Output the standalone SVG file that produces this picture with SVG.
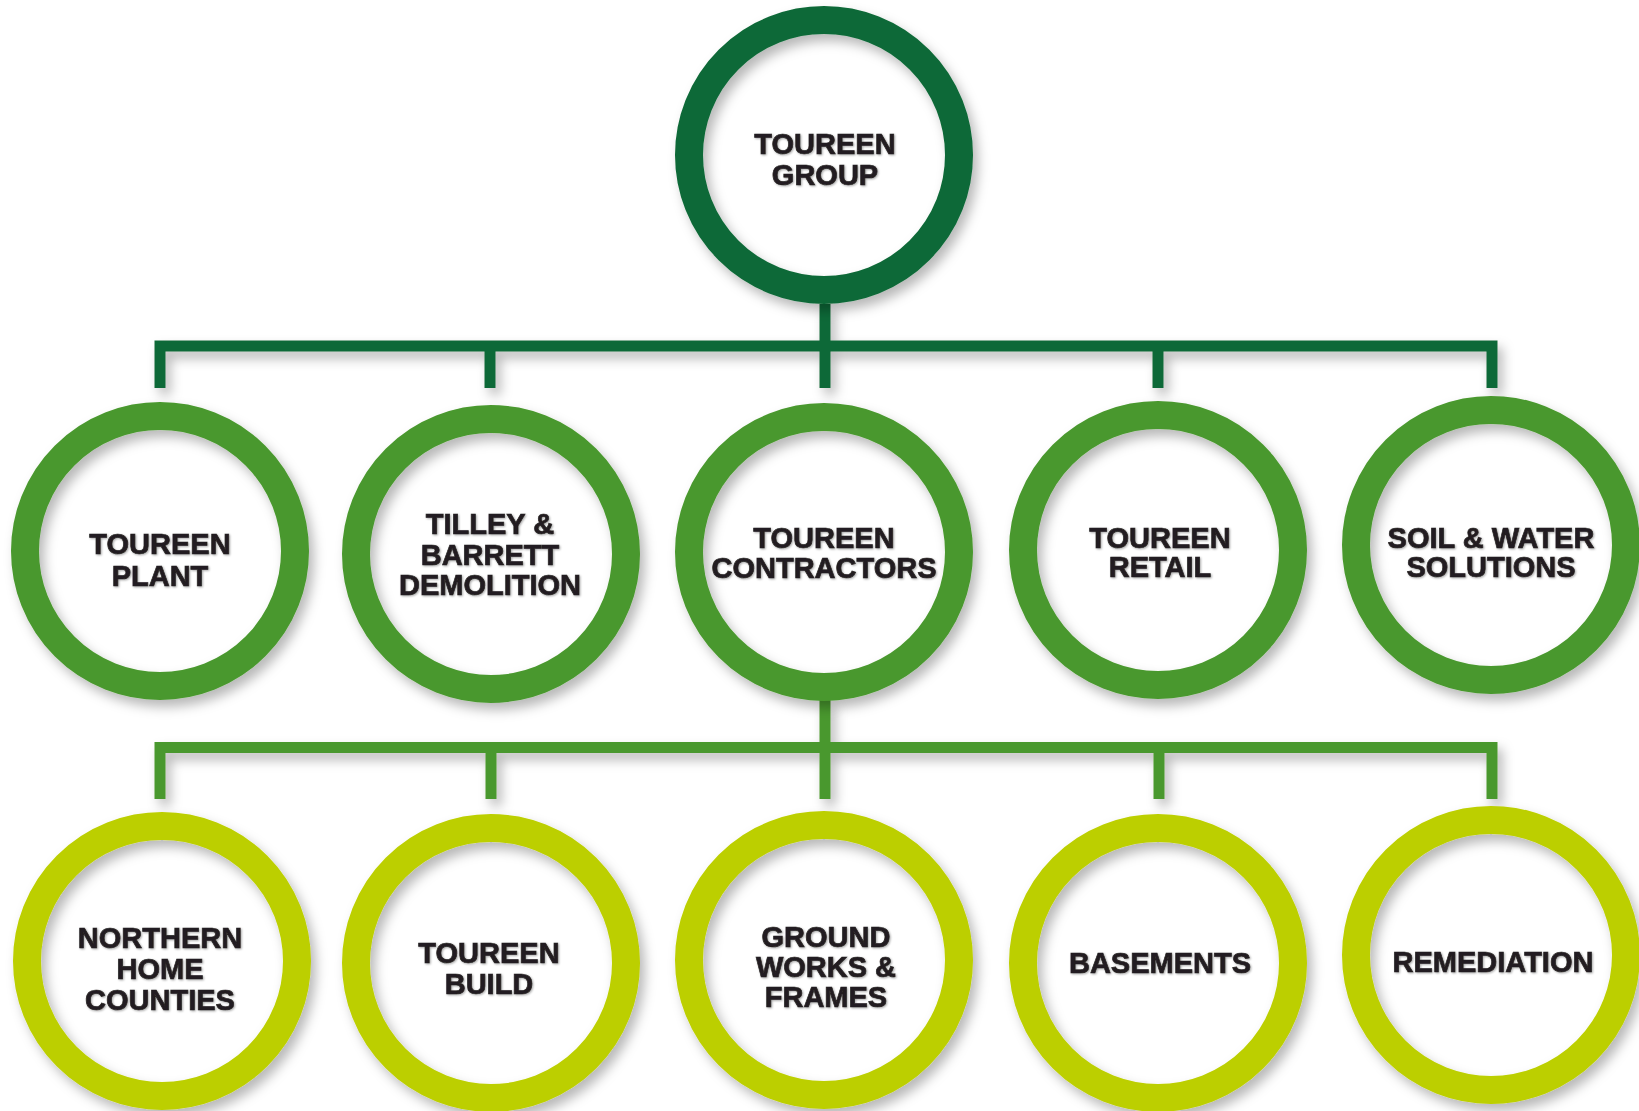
<svg xmlns="http://www.w3.org/2000/svg" width="1639" height="1111" viewBox="0 0 1639 1111">
<defs>
<filter id="sh" x="-20%" y="-20%" width="140%" height="140%">
<feDropShadow dx="5" dy="7" stdDeviation="6" flood-color="#000" flood-opacity="0.28"/>
</filter>
<filter id="tsh" x="-10%" y="-20%" width="120%" height="140%">
<feDropShadow dx="1" dy="1" stdDeviation="0.8" flood-color="#000" flood-opacity="0.35"/>
</filter>
</defs>
<style>
.ring{fill:none;stroke-width:28}
.l1{stroke:#0f6937}
.l2{stroke:#4a982e}
.l3{stroke:#bccf00}
.conn{fill:none;stroke-width:11;stroke-linejoin:miter;stroke-linecap:butt}
text{font-family:"Liberation Sans",Arial,sans-serif;font-weight:bold;font-size:29px;fill:#231f20;stroke:#231f20;stroke-width:0.7;text-anchor:middle}
</style>
<rect width="1639" height="1111" fill="#fff"/>
<g id="connectors" filter="url(#sh)">
<path class="conn l1" d="M160,388 V346 H1492 V388 M490,346 V388 M825,304 V388 M1158,346 V388"/>
<path class="conn l2" d="M160,799 V747.5 H1492 V799 M491,747.5 V799 M825,700 V799 M1159,747.5 V799"/>
</g>
<g id="toureen-group">
<circle class="ring l1" cx="824" cy="155" r="135" filter="url(#sh)"/>
<text filter="url(#tsh)"><tspan x="825" y="154">TOUREEN</tspan><tspan x="825" y="185">GROUP</tspan></text>
</g>
<g id="toureen-plant">
<circle class="ring l2" cx="160" cy="551" r="135" filter="url(#sh)"/>
<text filter="url(#tsh)"><tspan x="160" y="554">TOUREEN</tspan><tspan x="160" y="586">PLANT</tspan></text>
</g>
<g id="tilley-barrett">
<circle class="ring l2" cx="491" cy="554" r="135" filter="url(#sh)"/>
<text filter="url(#tsh)"><tspan x="490" y="534">TILLEY &amp;</tspan><tspan x="490" y="565">BARRETT</tspan><tspan x="490" y="595">DEMOLITION</tspan></text>
</g>
<g id="toureen-contractors">
<circle class="ring l2" cx="824" cy="552" r="135" filter="url(#sh)"/>
<text filter="url(#tsh)"><tspan x="824" y="548">TOUREEN</tspan><tspan x="824" y="578">CONTRACTORS</tspan></text>
</g>
<g id="toureen-retail">
<circle class="ring l2" cx="1158" cy="550" r="135" filter="url(#sh)"/>
<text filter="url(#tsh)"><tspan x="1160" y="548">TOUREEN</tspan><tspan x="1160" y="577">RETAIL</tspan></text>
</g>
<g id="soil-water">
<circle class="ring l2" cx="1491" cy="545" r="135" filter="url(#sh)"/>
<text filter="url(#tsh)"><tspan x="1491" y="548">SOIL &amp; WATER</tspan><tspan x="1491" y="577">SOLUTIONS</tspan></text>
</g>
<g id="northern-home-counties">
<circle class="ring l3" cx="162" cy="961" r="135" filter="url(#sh)"/>
<text filter="url(#tsh)"><tspan x="160" y="948">NORTHERN</tspan><tspan x="160" y="979">HOME</tspan><tspan x="160" y="1010">COUNTIES</tspan></text>
</g>
<g id="toureen-build">
<circle class="ring l3" cx="491" cy="963" r="135" filter="url(#sh)"/>
<text filter="url(#tsh)"><tspan x="489" y="963">TOUREEN</tspan><tspan x="489" y="994">BUILD</tspan></text>
</g>
<g id="ground-works">
<circle class="ring l3" cx="824" cy="960" r="135" filter="url(#sh)"/>
<text filter="url(#tsh)"><tspan x="826" y="947">GROUND</tspan><tspan x="826" y="977">WORKS &amp;</tspan><tspan x="826" y="1007">FRAMES</tspan></text>
</g>
<g id="basements">
<circle class="ring l3" cx="1158" cy="963" r="135" filter="url(#sh)"/>
<text filter="url(#tsh)"><tspan x="1160" y="973">BASEMENTS</tspan></text>
</g>
<g id="remediation">
<circle class="ring l3" cx="1491" cy="955" r="135" filter="url(#sh)"/>
<text filter="url(#tsh)"><tspan x="1493" y="972">REMEDIATION</tspan></text>
</g>
</svg>
